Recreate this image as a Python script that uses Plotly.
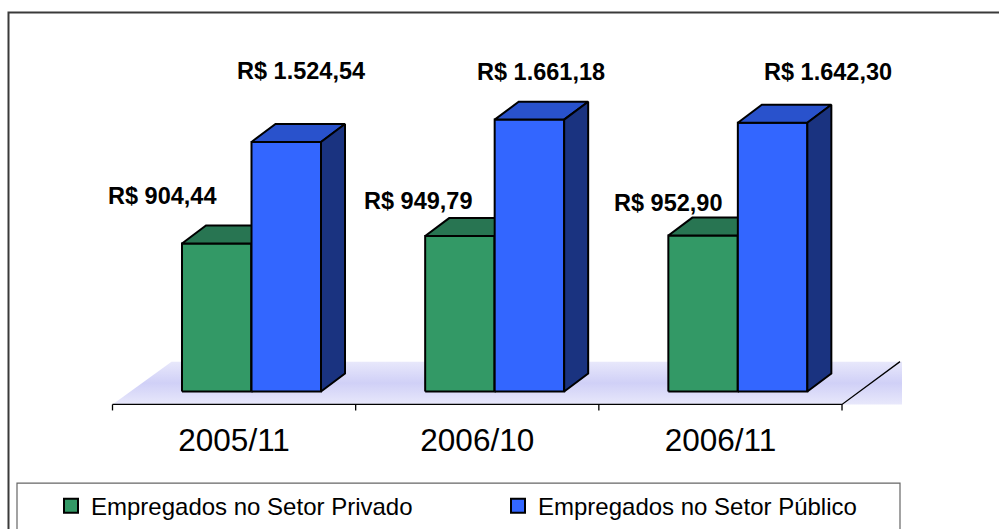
import plotly.graph_objects as go

# ---------------- data ----------------
categories = ["2005/11", "2006/10", "2006/11"]
setor_privado = [904.44, 949.79, 952.90]
setor_publico = [1524.54, 1661.18, 1642.30]
series_names = ["Empregados no Setor Privado", "Empregados no Setor Público"]

# ---------------- style / geometry ----------------
W, H = 999, 529
PX_PER_CAT = 243.17          # pixels per category
PX_PER_VAL = 0.1643          # pixels per value unit
X_ORIGIN_PX = 112.5          # pixel of x = -0.5
Y_ZERO_PX = 393.0            # pixel of value 0 (front face base)

x0 = -0.5 - X_ORIGIN_PX / PX_PER_CAT
x1 = x0 + W / PX_PER_CAT
y1 = Y_ZERO_PX / PX_PER_VAL
y0 = -(H - Y_ZERO_PX) / PX_PER_VAL

BAR_W = 69.5 / PX_PER_CAT
GROUP_SHIFT = 0.0716
DX = 24 / PX_PER_CAT
DY = 18 / PX_PER_VAL
FLOOR_FRONT = -13 / PX_PER_VAL
FLOOR_BACK = 30 / PX_PER_VAL
FLOOR_DX_L = 59 / PX_PER_CAT
FLOOR_DX_R = 58 / PX_PER_CAT
FLOOR_FILL_R = 60 / PX_PER_CAT
TICK_LEN = 6 / PX_PER_VAL

colors = {
    "priv": dict(front="#339966", top="#287552", side="#1f5c40"),
    "pub": dict(front="#3366FF", top="#2952CC", side="#1A3380"),
}
FONT = "Arial, Liberation Sans, sans-serif"

fig = go.Figure()

n = len(categories)
xl, xr = -0.5, n - 0.5

# floor
fig.add_trace(go.Scatter(
    x=[xl, xl + FLOOR_DX_L, xr + FLOOR_FILL_R, xr + FLOOR_FILL_R, xl],
    y=[FLOOR_FRONT, FLOOR_BACK, FLOOR_BACK, FLOOR_FRONT, FLOOR_FRONT],
    fill="toself", mode="none", showlegend=False, hoverinfo="skip",
    fillgradient=dict(type="vertical",
                      colorscale=[[0, "#e8e8fb"], [0.5, "#d0d0f7"], [1, "#e8e8fb"]]),
))
# floor front edge + right diagonal
fig.add_trace(go.Scatter(
    x=[xl, xr, xr + FLOOR_DX_R], y=[FLOOR_FRONT, FLOOR_FRONT, FLOOR_BACK],
    mode="lines", line=dict(color="#000000", width=1.3),
    showlegend=False, hoverinfo="skip"))
# ticks
tx, ty = [], []
for i in range(n + 1):
    tx += [i - 0.5, i - 0.5, None]
    ty += [FLOOR_FRONT, FLOOR_FRONT - TICK_LEN, None]
fig.add_trace(go.Scatter(x=tx, y=ty, mode="lines",
                         line=dict(color="#000000", width=1.3),
                         showlegend=False, hoverinfo="skip"))


def add_box(xa, xb, v, c):
    faces = [
        ([xa, xb, xb, xa, xa], [0, 0, v, v, 0], c["front"]),
        ([xa, xb, xb + DX, xa + DX, xa], [v, v, v + DY, v + DY, v], c["top"]),
        ([xb, xb + DX, xb + DX, xb, xb], [0, DY, v + DY, v, 0], c["side"]),
    ]
    for fx, fy, col in faces:
        fig.add_trace(go.Scatter(
            x=fx, y=fy, fill="toself", fillcolor=col, mode="lines",
            line=dict(color="#000000", width=2), showlegend=False,
            hoverinfo="skip"))


def brl(v):
    s = f"{v:,.2f}"
    return "R$ " + s.replace(",", "X").replace(".", ",").replace("X", ".")


LABEL_SHIFT_PRIV = [(-54.5, 47), (-41.5, 35.5), (-35, 33)]
LABEL_SHIFT_PUB = [(15, 71), (12, 48), (55.5, 51)]

annotations = []
for i in range(n):
    c = i + GROUP_SHIFT
    add_box(c - BAR_W, c, setor_privado[i], colors["priv"])
    add_box(c, c + BAR_W, setor_publico[i], colors["pub"])
    for val, xc, sh in [(setor_privado[i], c - BAR_W / 2, LABEL_SHIFT_PRIV[i]),
                        (setor_publico[i], c + BAR_W / 2, LABEL_SHIFT_PUB[i])]:
        annotations.append(dict(
            x=xc, y=val, xref="x", yref="y", text="<b>" + brl(val) + "</b>",
            showarrow=False, xanchor="center", yanchor="middle",
            xshift=sh[0], yshift=sh[1],
            font=dict(family=FONT, size=23.5, color="#000000")))

# legend entries
for name, key in zip(series_names, ["priv", "pub"]):
    fig.add_trace(go.Scatter(
        x=[None], y=[None], mode="markers", name=name,
        marker=dict(symbol="square", size=14, color=colors[key]["front"],
                    line=dict(color="#000000", width=2))))

shapes = [
    dict(type="rect", xref="paper", yref="paper",
         x0=8.5 / W, x1=1.05, y0=-0.05, y1=1 - 12.5 / H,
         line=dict(color="#3a3a3a", width=2), fillcolor="rgba(0,0,0,0)", layer="below"),
    dict(type="rect", xref="paper", yref="paper",
         x0=17 / W, x1=900 / W, y0=-0.05, y1=1 - 485 / H,
         line=dict(color="#666666", width=1.2), fillcolor="rgba(0,0,0,0)", layer="below"),
]

fig.update_layout(
    width=W, height=H,
    margin=dict(l=0, r=0, t=0, b=0),
    paper_bgcolor="white", plot_bgcolor="rgba(0,0,0,0)",
    xaxis=dict(range=[x0, x1], showgrid=False, zeroline=False, showline=False,
               tickmode="array", tickvals=list(range(n)), ticktext=categories,
               ticks="", anchor="free", position=(H - 406) / H,
               ticklabelstandoff=14,
               tickfont=dict(family=FONT, size=31.5, color="#000000"),
               fixedrange=True),
    yaxis=dict(range=[y0, y1], visible=False, fixedrange=True),
    showlegend=True,
    legend=dict(orientation="h", x=51 / W, xanchor="left", y=1 - 508 / H,
                yanchor="middle", bgcolor="rgba(0,0,0,0)", borderwidth=0,
                entrywidthmode="pixels", entrywidth=402,
                font=dict(family=FONT, size=24, color="#000000")),
    shapes=shapes,
    annotations=annotations,
)

fig.write_html("out.html",
               config={"displayModeBar": False},
               post_script="document.body.style.margin='0';"
                           "document.body.style.overflow='hidden';")
